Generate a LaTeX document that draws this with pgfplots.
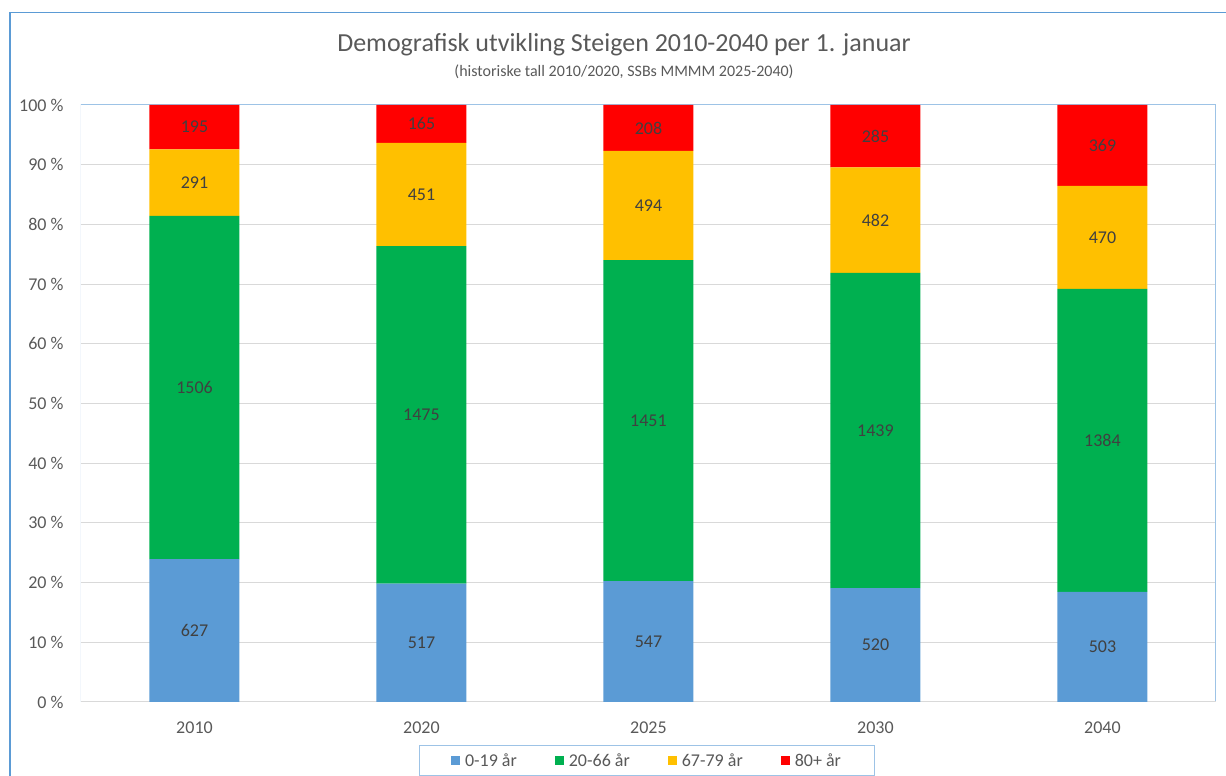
\documentclass[border=0pt]{standalone}
\usepackage{fontspec}
\setmainfont{Carlito}
\usepackage{pgfplots}
\usepackage{pgfplotstable}
\pgfplotsset{compat=1.18}

\definecolor{ageA}{HTML}{5B9BD5}
\definecolor{ageB}{HTML}{00B050}
\definecolor{ageC}{HTML}{FFC000}
\definecolor{ageD}{HTML}{FF0000}
\definecolor{frameblue}{HTML}{5B9BD5}
\definecolor{plotblue}{HTML}{9DC3E6}
\definecolor{gridgray}{HTML}{D9D9D9}
\definecolor{ticktext}{HTML}{595959}
\definecolor{labtext}{HTML}{404040}

% share of the population in percent
\pgfplotstableread{
x y
0 23.94
1 19.82
2 20.26
3 19.08
4 18.45
}\ageyoung
\pgfplotstableread{
x y
0 57.50
1 56.56
2 53.74
3 52.79
4 50.77
}\agework
\pgfplotstableread{
x y
0 11.11
1 17.29
2 18.30
3 17.68
4 17.24
}\ageold
\pgfplotstableread{
x y
0 7.45
1 6.33
2 7.70
3 10.45
4 13.54
}\ageoldest
% persons, placed at the middle of each segment
\pgfplotstableread{
x mid lab
0 11.97 627
0 52.69 1506
0 87.00 291
0 96.28 195
1 9.91 517
1 48.10 1475
1 85.03 451
1 96.84 165
2 10.13 547
2 47.13 1451
2 83.15 494
2 96.15 208
3 9.54 520
3 45.48 1439
3 80.71 482
3 94.78 285
4 9.23 503
4 43.84 1384
4 77.84 470
4 93.23 369
}\agelabels

\pgfplotsset{steigen/.style={
  at={(81pt,74pt)}, anchor=south west,
  scale only axis, width=1135pt, height=597pt,
  xmin=-0.5, xmax=4.5, ymin=0, ymax=100,
  enlargelimits=false,
}}

\begin{document}
\begin{tikzpicture}
\useasboundingbox (0pt,0pt) rectangle (1226pt,776pt);
\clip (0pt,0pt) rectangle (1226pt,776pt);
\draw[frameblue, line width=1.5pt] (10pt,-10pt) -- (10pt,763.5pt) -- (1240pt,763.5pt);
\node[ticktext, font=\fontsize{26}{30}\selectfont] at (624pt,731pt) {Demografisk utvikling Steigen 2010-2040 per 1. januar};
\node[ticktext, font=\fontsize{16}{19}\selectfont] at (624pt,704pt) {(historiske tall 2010/2020, SSBs MMMM 2025-2040)};
\begin{axis}[
  steigen,
  ybar stacked, bar width=90pt,
  xtick={0,1,2,3,4},
  xticklabels={2010,2020,2025,2030,2040},
  ytick={0,10,...,100},
  yticklabels={0 \%,10 \%,20 \%,30 \%,40 \%,50 \%,60 \%,70 \%,80 \%,90 \%,100 \%},
  ymajorgrids, grid style={gridgray, line width=1pt},
  axis line style={draw=none}, major tick length=0pt,
  tick label style={ticktext, font=\fontsize{18}{21}\selectfont},
  yticklabel style={xshift=-14pt},
  xticklabel style={yshift=-16pt},
  legend columns=4,
  legend style={at={(0.4987,-0.072)}, anchor=north, draw=plotblue, line width=1pt,
    font=\fontsize{18}{21}\selectfont, text=ticktext,
    inner xsep=32pt, inner ysep=6pt,
    /tikz/every odd column/.append style={column sep=3pt},
    /tikz/every even column/.append style={column sep=36pt}},
  legend image code/.code={\fill[#1] (0pt,-4.5pt) rectangle (9pt,4.5pt);},
]
\addplot[fill=ageA, draw=none] table[x=x, y=y] {\ageyoung};
\addlegendentry{0-19 år}
\addplot[fill=ageB, draw=none] table[x=x, y=y] {\agework};
\addlegendentry{20-66 år}
\addplot[fill=ageC, draw=none] table[x=x, y=y] {\ageold};
\addlegendentry{67-79 år}
\addplot[fill=ageD, draw=none] table[x=x, y=y] {\ageoldest};
\addlegendentry{80+ år}
\draw[gridgray, line width=1pt] (rel axis cs:0,0) -- (rel axis cs:1,0);
\draw[plotblue, line width=1pt] (rel axis cs:0,0) -- (rel axis cs:0,1) -- (rel axis cs:1,1) -- (rel axis cs:1,0);
\end{axis}
\begin{axis}[steigen, hide axis]
\addplot[draw=none, mark=none, point meta=explicit symbolic,
  nodes near coords,
  nodes near coords style={labtext, font=\fontsize{18}{21}\selectfont, anchor=center}]
  table[x=x, y=mid, meta=lab] {\agelabels};
\end{axis}
\end{tikzpicture}
\end{document}
